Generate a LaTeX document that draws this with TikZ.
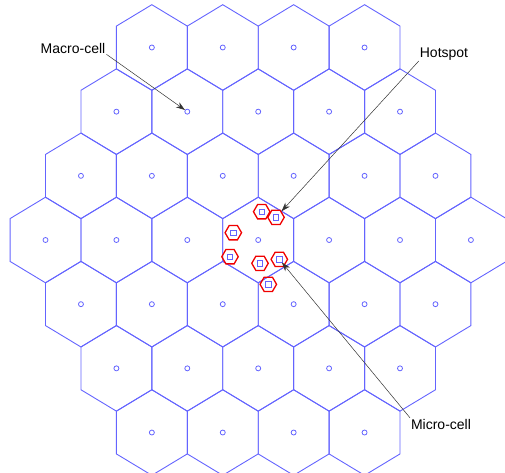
\documentclass[tikz,border=0pt]{standalone}
\usepackage{fontspec}
\setmainfont{Liberation Sans}
\usetikzlibrary{shapes.geometric,arrows.meta}
\definecolor{cellblue}{RGB}{100,100,255}
\definecolor{hotred}{RGB}{240,0,0}
\begin{document}
\begin{tikzpicture}[x=1pt,y=-1pt,
  hexline/.style={draw=cellblue,line width=0.9pt,line join=miter},
  bs/.style={circle,draw=cellblue,line width=0.8pt,minimum size=5pt,inner sep=0pt},
  micro/.style={regular polygon,regular polygon sides=6,draw=hotred,line width=1.3pt,minimum size=16.5pt,inner sep=0pt},
  sq/.style={rectangle,draw=cellblue,line width=0.8pt,minimum size=5.5pt,inner sep=0pt},
  lbl/.style={font=\fontsize{14}{16}\selectfont,inner sep=1pt,anchor=base},
  pointer/.style={draw=black!80,line width=0.5pt,-{Stealth[length=9pt,width=6pt]}}
]
\useasboundingbox (0,0) rectangle (505,472);
\clip (0,0) rectangle (505,472);
% macro cells
\foreach \r in {-3,...,3}{
  \pgfmathtruncatemacro\n{6-abs(\r)}
  \foreach \k in {0,...,\n}{
    \pgfmathsetmacro\cx{258.2+70.9*(\k-\n/2)}
    \pgfmathsetmacro\cy{240+64.17*\r}
    \draw[hexline] (\cx,\cy) ++(0,-42.8) -- ++(35.45,21.4) -- ++(0,42.8) -- ++(-35.45,21.4) -- ++(-35.45,-21.4) -- ++(0,-42.8) -- cycle;
    \node[bs] (cell\r x\k) at (\cx,\cy) {};
  }
}
% micro cells
\foreach \i/\x/\y in {1/261.7/211.7, 2/276/217.3, 3/233.3/232.7, 4/230/256.7, 5/260/263.3, 6/279.3/259.3, 7/268.3/284.3}{
  \node[micro] (h\i) at (\x,\y) {};
  \node[sq] (s\i) at (\x,\y) {};
}
% labels
\node[lbl] (lmacro) at (73,53) {Macro-cell};
\node[lbl] (lhot) at (444,57) {Hotspot};
\node[lbl] (lmicro) at (441,429) {Micro-cell};
% pointers
\draw[pointer] (lmacro.south east) -- (cell-2x1);
\draw[pointer] (lhot.south west) -- (h2);
\draw[pointer] (lmicro.north west) -- (s6);
\end{tikzpicture}
\end{document}
